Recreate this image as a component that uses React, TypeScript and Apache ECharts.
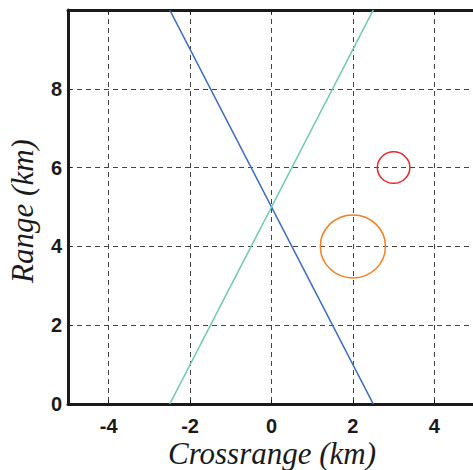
import React, { useEffect, useRef } from "react";
import * as echarts from "echarts";

const xTicks = [-4, -2, 0, 2, 4];
const yTicks = [0, 2, 4, 6, 8];
const xTitle = "Crossrange (km)";
const yTitle = "Range (km)";
const blueLine = [[-2.5, 10], [2.5, 0]];
const greenLine = [[-2.5, 0], [2.5, 10]];
// [centerX, centerY, radius] in km
const orangeCircle = [[2, 4, 0.8]];
const redCircle = [[3, 6, 0.4]];

const circleRender = (color: string) => (params: any, api: any) => {
  const c = api.coord([api.value(0), api.value(1)]);
  const s = api.size([api.value(2), api.value(2)]);
  return {
    type: "ellipse",
    shape: { cx: c[0], cy: c[1], rx: s[0], ry: s[1] },
    style: { fill: "none", stroke: color, lineWidth: 1.5 },
  };
};

export default function App() {
  const ref = useRef<HTMLDivElement>(null);
  useEffect(() => {
    if (!ref.current) return;
    const chart = echarts.init(ref.current, null, { renderer: "svg" });
    const labelStyle = {
      fontFamily: "Liberation Sans",
      fontWeight: "bold" as const,
      fontSize: 20,
      color: "#1a1a1a",
    };
    const titleStyle = {
      fontFamily: "Times New Roman, Liberation Serif, serif",
      fontStyle: "italic",
      fontSize: 31,
      fill: "#1a1a1a",
      align: "center",
      verticalAlign: "middle",
    };
    chart.setOption({
      animation: false,
      grid: { left: 68, right: -2, top: 10, bottom: 66, outerBoundsMode: "none", containLabel: false },
      graphic: [
        {
          type: "text",
          x: 272,
          y: 453,
          style: { ...titleStyle, text: xTitle },
        },
        {
          type: "text",
          x: 22,
          y: 211,
          rotation: Math.PI / 2,
          style: { ...titleStyle, text: yTitle },
        },
      ],
      xAxis: [
        {
          type: "value",
          min: -5,
          max: 5,
          splitNumber: 5,
          axisLine: { onZero: false, lineStyle: { color: "#1a1a1a", width: 3 } },
          axisTick: { inside: true, length: 4, lineStyle: { color: "#1a1a1a", width: 1 } },
          axisLabel: {
            ...labelStyle,
            margin: 12,
            showMinLabel: false,
            showMaxLabel: false,
            formatter: (v: number) => (xTicks.includes(v) ? String(v) : ""),
          },
          splitLine: { show: true, lineStyle: { color: "#444", type: [5, 4], width: 1 } },
        },
        {
          type: "value",
          position: "top",
          min: -5,
          max: 5,
          splitNumber: 5,
          axisLine: { onZero: false, lineStyle: { color: "#1a1a1a", width: 3 } },
          axisTick: { inside: true, length: 4, lineStyle: { color: "#1a1a1a", width: 1 } },
          axisLabel: { show: false },
          splitLine: { show: false },
        },
      ],
      yAxis: {
        type: "value",
        min: 0,
        max: 10,
        interval: 2,
        axisLine: { onZero: false, lineStyle: { color: "#1a1a1a", width: 3 } },
        axisTick: { inside: true, length: 4, lineStyle: { color: "#1a1a1a", width: 1 } },
        axisLabel: {
          ...labelStyle,
          margin: 6,
          showMaxLabel: false,
          formatter: (v: number) => (yTicks.includes(v) ? String(v) : ""),
        },
        splitLine: { show: true, lineStyle: { color: "#444", type: [5, 4], width: 1 } },
      },
      series: [
        {
          type: "line",
          data: blueLine,
          showSymbol: false,
          lineStyle: { color: "#3b6cc2", width: 1.6 },
          z: 3,
        },
        {
          type: "line",
          data: greenLine,
          showSymbol: false,
          lineStyle: { color: "#6dcca6", width: 1.6 },
          z: 3,
        },
        {
          type: "custom",
          data: orangeCircle,
          encode: { x: 0, y: 1 },
          renderItem: circleRender("#f47f20"),
          z: 4,
        },
        {
          type: "custom",
          data: redCircle,
          encode: { x: 0, y: 1 },
          renderItem: circleRender("#e8262b"),
          z: 4,
        },
      ],
    });
    return () => chart.dispose();
  }, []);
  return <div ref={ref} style={{ width: 473, height: 470, position: "absolute", left: 0, top: 0 }} />;
}
